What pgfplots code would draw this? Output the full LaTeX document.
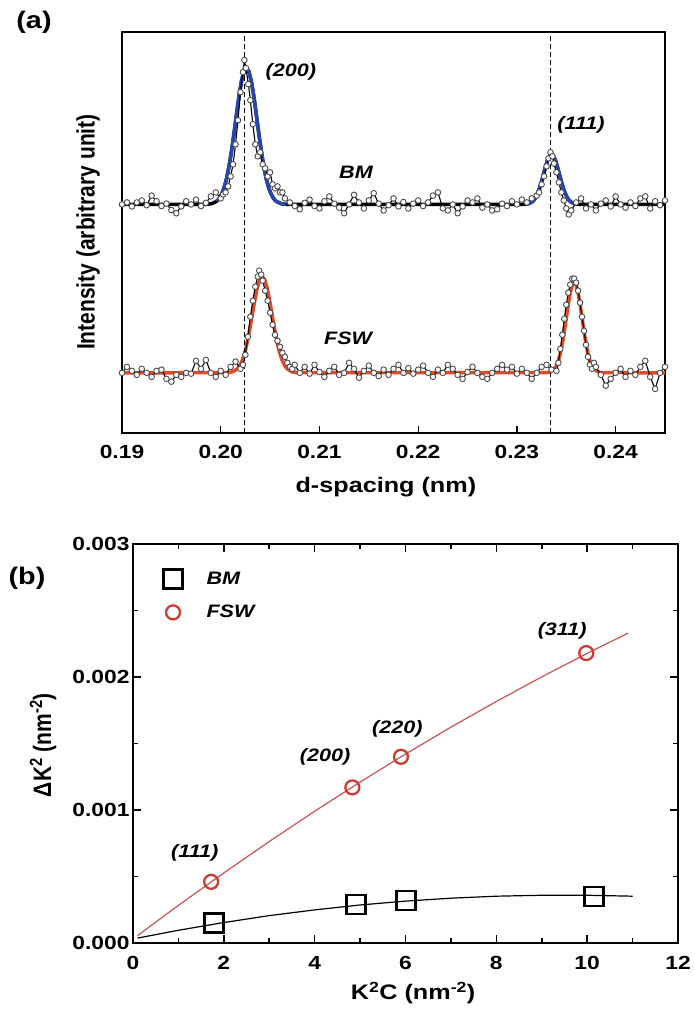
\documentclass[border=0pt]{standalone}
\usepackage{fontspec}
\setmainfont{Liberation Sans}[FakeStretch=1.2]
\newfontfamily\plainsans{Liberation Sans}
\usepackage{graphicx}
\usepackage{pgfplots}
\usepackage{pgfplotstable}
\pgfplotsset{compat=1.18}

\definecolor{bmblue}{RGB}{40,70,175}
\definecolor{fswred}{RGB}{225,75,40}
\definecolor{ptred}{RGB}{205,60,50}
\definecolor{fitred}{RGB}{200,85,85}

\newcommand{\tlfont}{\fontsize{19}{22}\selectfont\bfseries}
\newcommand{\lbfont}{\fontsize{21}{24}\selectfont\bfseries}
\newcommand{\anfont}{\fontsize{18}{21}\selectfont\bfseries\itshape}

% ---------- panel (a) data ----------
\pgfplotstableread{
x y
0.1900 0.570
0.1905 0.575
0.1910 0.565
0.1915 0.575
0.1920 0.580
0.1925 0.568
0.1930 0.592
0.1935 0.578
0.1940 0.566
0.1945 0.572
0.1950 0.556
0.1955 0.548
0.1960 0.565
0.1965 0.578
0.1970 0.570
0.1975 0.582
0.1980 0.566
0.1985 0.574
0.1990 0.590
0.1995 0.600
0.2000 0.585
0.20025 0.595
0.2005 0.600
0.20075 0.615
0.2010 0.640
0.20125 0.670
0.2015 0.720
0.20175 0.780
0.2020 0.850
0.20225 0.900
0.2024 0.930
0.20255 0.910
0.2028 0.870
0.2030 0.830
0.20325 0.770
0.2035 0.720
0.20375 0.690
0.2040 0.700
0.20425 0.670
0.2045 0.660
0.20475 0.640
0.2050 0.650
0.20525 0.620
0.2055 0.610
0.20575 0.615
0.2060 0.600
0.20625 0.600
0.2065 0.585
0.2070 0.575
0.2075 0.566
0.2080 0.558
0.2085 0.574
0.2090 0.582
0.2095 0.566
0.2100 0.560
0.2105 0.578
0.2110 0.590
0.2115 0.572
0.2120 0.562
0.2125 0.548
0.2130 0.570
0.2135 0.594
0.2140 0.575
0.2145 0.560
0.2150 0.580
0.2155 0.598
0.2160 0.572
0.2165 0.555
0.2170 0.568
0.2175 0.585
0.2180 0.565
0.2185 0.576
0.2190 0.560
0.2195 0.572
0.2200 0.580
0.2205 0.566
0.2210 0.575
0.2215 0.592
0.2220 0.600
0.2225 0.560
0.2230 0.555
0.2235 0.570
0.2240 0.548
0.2245 0.565
0.2250 0.580
0.2255 0.575
0.2260 0.585
0.2265 0.562
0.2270 0.570
0.2275 0.555
0.2280 0.558
0.2285 0.572
0.2290 0.566
0.2295 0.578
0.2300 0.570
0.2305 0.582
0.2310 0.575
0.2315 0.585
0.2320 0.592
0.23225 0.600
0.2325 0.620
0.23275 0.640
0.2330 0.665
0.2332 0.685
0.2334 0.700
0.2336 0.690
0.23375 0.672
0.2340 0.650
0.23425 0.625
0.2345 0.600
0.23475 0.580
0.2350 0.560
0.23525 0.545
0.2355 0.555
0.2360 0.575
0.2365 0.585
0.2370 0.560
0.2375 0.570
0.2380 0.555
0.2385 0.572
0.2390 0.580
0.2395 0.565
0.2400 0.590
0.2405 0.570
0.2410 0.562
0.2415 0.575
0.2420 0.566
0.2425 0.585
0.2430 0.590
0.2435 0.560
0.2440 0.578
0.2445 0.568
0.2450 0.580
}\bmdata

\pgfplotstableread{
x y
0.1900 0.570
0.1986 0.5704
0.1991 0.572
0.1996 0.578
0.19985 0.585
0.2001 0.596
0.20035 0.612
0.2006 0.635
0.20085 0.666
0.2011 0.704
0.20135 0.748
0.2016 0.795
0.20185 0.840
0.2021 0.877
0.20235 0.9015
0.2026 0.910
0.20285 0.9015
0.2031 0.877
0.20335 0.840
0.2036 0.795
0.20385 0.748
0.2041 0.704
0.20435 0.666
0.2046 0.635
0.20485 0.612
0.2051 0.596
0.20535 0.585
0.2056 0.578
0.2061 0.572
0.2066 0.5704
0.2307 0.5703
0.2311 0.5714
0.2315 0.5755
0.2317 0.580
0.2319 0.587
0.2321 0.597
0.2323 0.611
0.2325 0.627
0.2327 0.646
0.2329 0.664
0.2331 0.680
0.2333 0.691
0.2335 0.695
0.2337 0.691
0.2339 0.680
0.2341 0.664
0.2343 0.646
0.2345 0.627
0.2347 0.611
0.2349 0.597
0.2351 0.587
0.2353 0.580
0.2355 0.5755
0.2359 0.5714
0.2363 0.5703
0.2450 0.570
}\bmfit

\pgfplotstableread{
x y
0.1900 0.150
0.1905 0.165
0.1910 0.155
0.1915 0.145
0.1920 0.160
0.1925 0.150
0.1930 0.140
0.1935 0.155
0.1940 0.158
0.1945 0.135
0.1950 0.128
0.1955 0.145
0.1960 0.140
0.1965 0.150
0.1970 0.148
0.1975 0.180
0.1980 0.160
0.1985 0.182
0.1990 0.150
0.1995 0.140
0.2000 0.155
0.2005 0.145
0.2010 0.165
0.2015 0.178
0.2020 0.160
0.20225 0.170
0.2025 0.195
0.20275 0.240
0.2030 0.290
0.20325 0.330
0.2035 0.365
0.20375 0.390
0.2039 0.405
0.2041 0.395
0.20425 0.380
0.2045 0.355
0.20475 0.330
0.2050 0.300
0.20525 0.270
0.2055 0.245
0.20575 0.230
0.2060 0.215
0.20625 0.200
0.2065 0.190
0.20675 0.175
0.2070 0.165
0.20725 0.160
0.2075 0.170
0.2080 0.150
0.2085 0.165
0.2090 0.148
0.2095 0.170
0.2100 0.152
0.2105 0.140
0.2110 0.155
0.2115 0.165
0.2120 0.145
0.2125 0.150
0.2130 0.175
0.2135 0.160
0.2140 0.138
0.2145 0.155
0.2150 0.168
0.2155 0.150
0.2160 0.142
0.2165 0.158
0.2170 0.145
0.2175 0.160
0.2180 0.170
0.2185 0.150
0.2190 0.162
0.2195 0.148
0.2200 0.158
0.2205 0.168
0.2210 0.150
0.2215 0.140
0.2220 0.158
0.2225 0.150
0.2230 0.170
0.2235 0.160
0.2240 0.145
0.2245 0.135
0.2250 0.152
0.2255 0.165
0.2260 0.150
0.2265 0.140
0.2270 0.135
0.2275 0.150
0.2280 0.160
0.2285 0.170
0.2290 0.158
0.2295 0.165
0.2300 0.148
0.2305 0.160
0.2310 0.150
0.2315 0.135
0.2320 0.150
0.2325 0.165
0.2330 0.170
0.2335 0.158
0.2340 0.155
0.2342 0.175
0.2344 0.210
0.2346 0.245
0.2348 0.285
0.2350 0.320
0.2352 0.350
0.2354 0.370
0.2356 0.385
0.2358 0.385
0.2360 0.375
0.2362 0.355
0.2364 0.325
0.2366 0.290
0.2368 0.255
0.2370 0.220
0.2372 0.190
0.2374 0.170
0.2376 0.160
0.2378 0.175
0.2380 0.165
0.2385 0.145
0.2390 0.118
0.2395 0.135
0.2400 0.150
0.2405 0.160
0.2410 0.140
0.2415 0.155
0.2420 0.145
0.2425 0.165
0.2430 0.180
0.2435 0.140
0.2440 0.110
0.2445 0.150
0.2450 0.165
}\fswdata

\pgfplotstableread{
x y
0.1900 0.150
0.2007 0.1505
0.2012 0.1527
0.2017 0.1605
0.20195 0.1691
0.2022 0.1825
0.20245 0.2019
0.2027 0.2279
0.20295 0.2599
0.2032 0.2956
0.20345 0.3312
0.2037 0.3618
0.20395 0.3826
0.2042 0.3900
0.20445 0.3826
0.2047 0.3618
0.20495 0.3312
0.2052 0.2956
0.20545 0.2599
0.2057 0.2279
0.20595 0.2019
0.2062 0.1825
0.20645 0.1691
0.2067 0.1605
0.2072 0.1527
0.2077 0.1505
0.2330 0.1505
0.2334 0.1525
0.2338 0.1599
0.2340 0.1679
0.2342 0.1804
0.2344 0.1987
0.2346 0.2230
0.2348 0.2530
0.2350 0.2865
0.2352 0.3198
0.2354 0.3486
0.2356 0.3680
0.2358 0.3750
0.2360 0.3680
0.2362 0.3486
0.2364 0.3198
0.2366 0.2865
0.2368 0.2530
0.2370 0.2230
0.2372 0.1987
0.2374 0.1804
0.2376 0.1679
0.2378 0.1599
0.2382 0.1525
0.2386 0.1505
0.2450 0.150
}\fswfit

% ---------- panel (b) data ----------
\pgfplotstableread{
x y
1.78 0.00015
4.91 0.00029
6.01 0.00032
10.15 0.00035
}\bmpts
\pgfplotstableread{
x y
1.72 0.00046
4.83 0.00117
5.90 0.00140
9.98 0.00218
}\fswpts
\pgfplotstableread{
x y
0.1 0.000037
1 0.0000958
2 0.000154
3 0.000206
4 0.000249
5 0.000286
6 0.000315
7 0.000337
8 0.000352
9 0.000359
10 0.000359
11 0.000352
}\bmline
\pgfplotstableread{
x y
0.1 0.0000557
1 0.000283
2 0.000527
3 0.000763
4 0.000991
5 0.001210
6 0.001421
7 0.001623
8 0.001816
9 0.002001
10 0.002178
10.9 0.002330
}\fswline

\begin{document}
\begin{tikzpicture}
\path[use as bounding box] (0pt,0pt) rectangle (694pt,-1012pt);

\node[font=\fontsize{24}{28}\selectfont\bfseries] at (34pt,-22pt) {(a)};
\node[font=\fontsize{24}{28}\selectfont\bfseries] at (27pt,-578pt) {(b)};

% ================= panel (a) =================
\begin{axis}[
  at={(122pt,-433pt)}, anchor=south west,
  width=543pt, height=401pt, scale only axis,
  xmin=0.19, xmax=0.245, ymin=0, ymax=1,
  xtick={0.19,0.20,0.21,0.22,0.23,0.24},
  xticklabels={0.19,0.20,0.21,0.22,0.23,0.24},
  ytick=\empty,
  xtick pos=lower,
  tick align=inside,
  major tick length=7pt,
  axis line style={line width=1.3pt},
  every tick/.style={line width=1.3pt, black},
  /pgf/number format/assume math mode=true,
  xticklabel style={font=\tlfont, yshift=-9pt},
  xlabel={d-spacing (nm)},
  ylabel={\plainsans\scalebox{1}[1.2]{Intensity (arbitrary unit)}},
  xlabel style={font=\lbfont, at={(axis description cs:0.486,-0.1347)}, anchor=center},
  ylabel style={font=\lbfont, at={(axis description cs:-0.0626,0.501)}, anchor=center},
  clip=true,
]
\addplot[black, line width=3.5pt] table[x=x,y=y] {\bmfit};
\addplot[bmblue, line width=3.5pt, restrict x to domain=0.1995:0.2072] table[x=x,y=y] {\bmfit};
\addplot[bmblue, line width=3.5pt, restrict x to domain=0.2308:0.2362] table[x=x,y=y] {\bmfit};
\addplot[fswred, line width=3.5pt] table[x=x,y=y] {\fswfit};
\addplot[black, line width=1.1pt, mark=*, mark size=2.8pt,
  mark options={fill=white, draw=black!70, line width=0.9pt}] table[x=x,y=y] {\bmdata};
\addplot[black, line width=1.1pt, mark=*, mark size=2.8pt,
  mark options={fill=white, draw=black!70, line width=0.9pt}] table[x=x,y=y] {\fswdata};
\addplot[black, line width=1.4pt, dash pattern=on 5pt off 3pt] coordinates {(0.2024,0) (0.2024,1)};
\addplot[black, line width=1.4pt, dash pattern=on 5pt off 3pt] coordinates {(0.2334,0) (0.2334,1)};
\node[font=\anfont] at (axis cs:0.2071,0.90) {(200)};
\node[font=\anfont] at (axis cs:0.2365,0.768) {(111)};
\node[font=\anfont] at (axis cs:0.2137,0.651) {BM};
\node[font=\anfont] at (axis cs:0.2129,0.237) {FSW};
\end{axis}

% ================= panel (b) =================
\begin{axis}[
  at={(133pt,-943pt)}, anchor=south west,
  width=545pt, height=399pt, scale only axis,
  xmin=0, xmax=12, ymin=0, ymax=0.003,
  xtick={0,2,4,6,8,10,12},
  ytick={0,0.001,0.002,0.003},
  yticklabels={0.000,0.001,0.002,0.003},
  scaled y ticks=false,
  minor x tick num=1, minor y tick num=1,
  tick pos=both, tick align=inside,
  major tick length=8pt, minor tick length=5pt,
  axis line style={line width=1.6pt},
  every tick/.style={line width=1.6pt, black},
  /pgf/number format/assume math mode=true,
  xticklabel style={font=\tlfont, yshift=-10pt},
  yticklabel style={font=\tlfont},
  xlabel={K\textsuperscript{2}C (nm\textsuperscript{-2})},
  ylabel={\plainsans\scalebox{1}[1.2]{ΔK\textsuperscript{2} (nm\textsuperscript{-2})}},
  xlabel style={font=\lbfont, at={(axis description cs:0.514,-0.125)}, anchor=center},
  ylabel style={font=\lbfont, at={(axis description cs:-0.165,0.496)}, anchor=center},
  legend style={draw=none, fill=none, at={(axis description cs:0.052,0.942)}, anchor=north west,
    font=\anfont, row sep=15pt, inner sep=2pt,
    /tikz/every odd column/.append style={column sep=22pt}},
  legend cell align=left,
]
\addplot[black, line width=1.2pt, forget plot] table[x=x,y=y] {\bmline};
\addplot[fitred, line width=1.2pt, forget plot] table[x=x,y=y] {\fswline};
\addplot[only marks, mark=square, mark size=9.5pt, mark options={draw=black, line width=2.6pt}] table[x=x,y=y] {\bmpts};
\addlegendentry{BM}
\addplot[only marks, mark=o, mark size=7pt, mark options={draw=ptred, line width=2.3pt}] table[x=x,y=y] {\fswpts};
\addlegendentry{FSW}
\node[font=\anfont] at (axis cs:1.36,0.00068) {(111)};
\node[font=\anfont] at (axis cs:4.23,0.00140) {(200)};
\node[font=\anfont] at (axis cs:5.82,0.00161) {(220)};
\node[font=\anfont] at (axis cs:9.45,0.00235) {(311)};
\end{axis}
\end{tikzpicture}
\end{document}
